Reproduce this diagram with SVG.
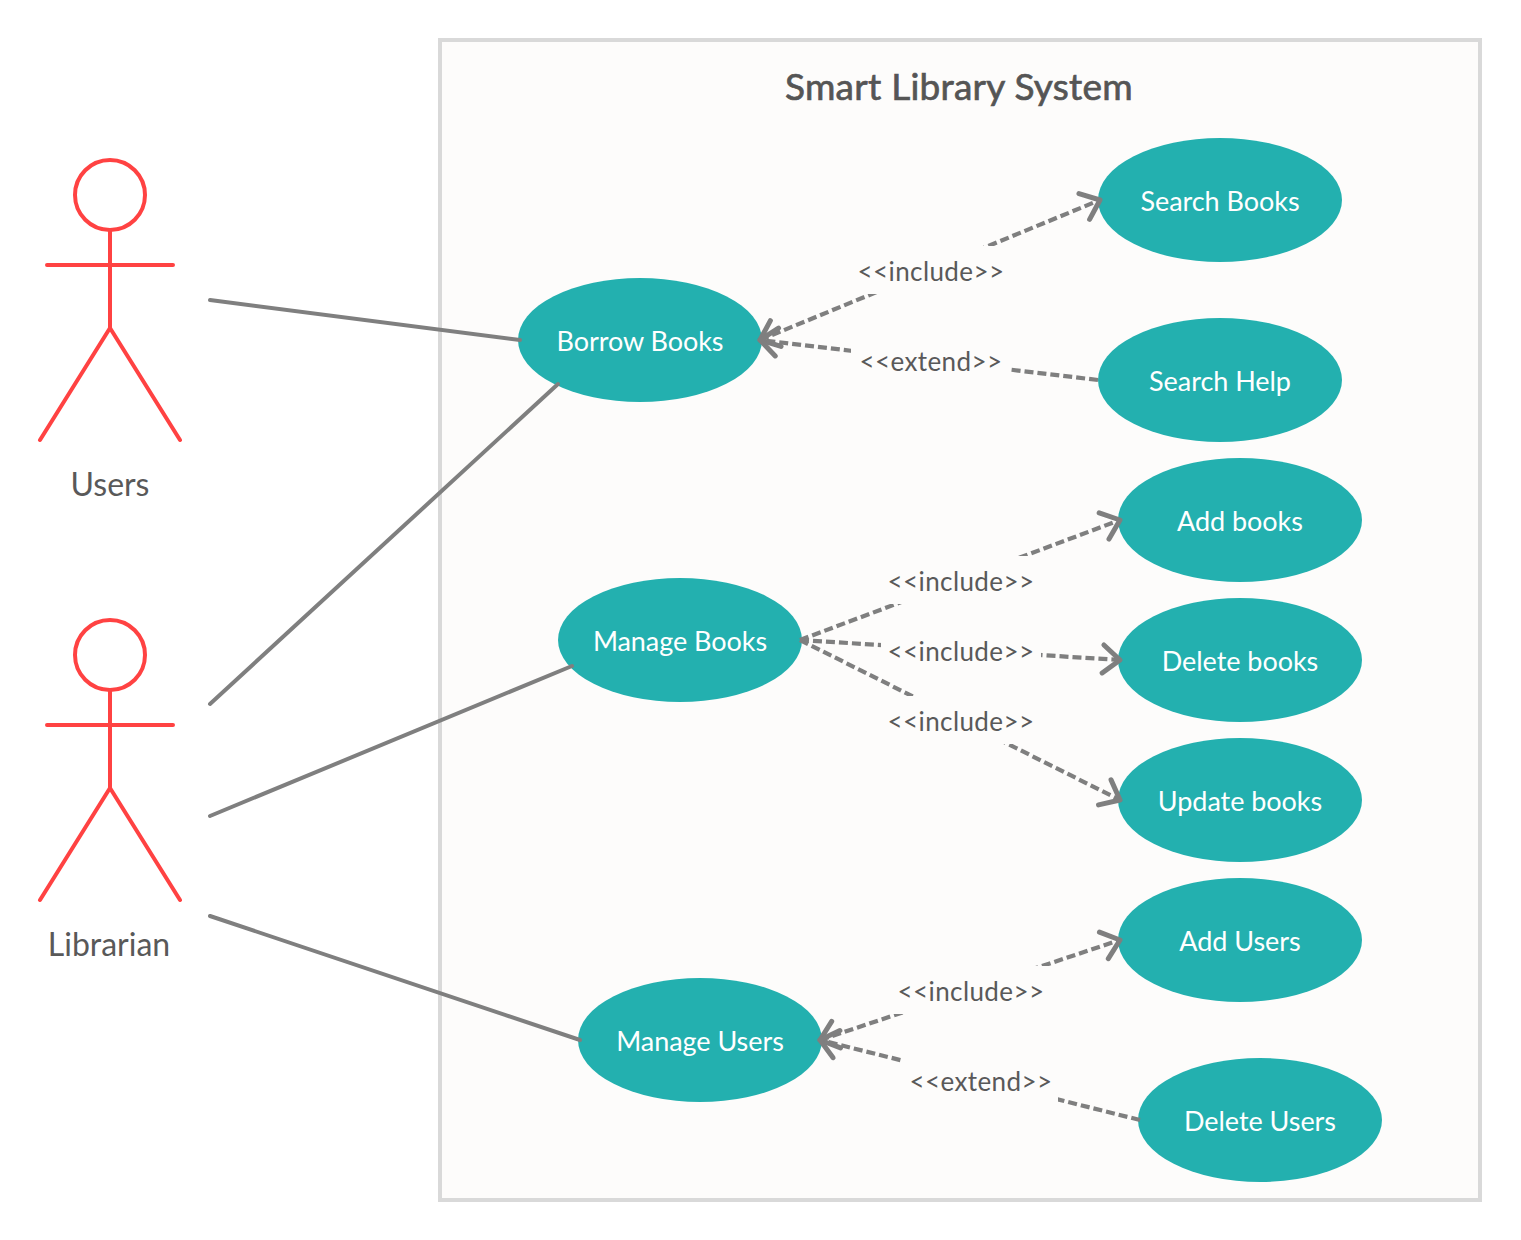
<svg xmlns="http://www.w3.org/2000/svg" width="1521" height="1240" viewBox="0 0 1521 1240">
<style>
text{font-family:Lato,"Open Sans","Liberation Sans",sans-serif;text-anchor:middle}
.uc ellipse{fill:#23b0af}
.uc text{font-size:27px;fill:#fff;letter-spacing:-0.05px}
.actor *{fill:none;stroke:#ff4242;stroke-width:4;stroke-linecap:round;stroke-linejoin:round}
.actor text{fill:#595959;stroke:none;font-size:32px}
.solid{stroke:#7f7f7f;stroke-width:4;stroke-linecap:round;fill:none}
.dash{stroke:#7f7f7f;stroke-width:4.2;stroke-dasharray:9 4;fill:none}
.lbl{fill:#fdfcfb}
.ltxt{font-size:26px;fill:#595959;letter-spacing:0.4px}
</style>
<defs>
<marker id="open" markerUnits="userSpaceOnUse" markerWidth="40" markerHeight="40" refX="22" refY="20" orient="auto-start-reverse" viewBox="0 0 40 40">
<path d="M5 6L22 20L5 34" fill="none" stroke="#7f7f7f" stroke-width="5" stroke-linecap="round" stroke-linejoin="round"/>
</marker>
</defs>
<rect width="1521" height="1240" fill="#fff"/>
<g id="system">
<rect x="440" y="40" width="1040" height="1160" fill="#fdfcfb" stroke="#d9d9d9" stroke-width="4"/>
<text x="959" y="100" font-size="37" fill="#555" stroke="#555" stroke-width="0.7" letter-spacing="0.25">Smart Library System</text>
</g>
<g id="actor-users" class="actor">
<circle cx="110" cy="195" r="35"/>
<path d="M110 230V328M47 265H173M40 440L110 328L180 440"/>
<text x="110" y="496">Users</text>
</g>
<g id="actor-librarian" class="actor">
<circle cx="110" cy="655" r="35"/>
<path d="M110 690V788M47 725H173M40 900L110 788L180 900"/>
<text x="109" y="956">Librarian</text>
</g>
<g id="uc-borrow" class="uc"><ellipse cx="640" cy="340" rx="122" ry="62"/><text x="640" y="351">Borrow Books</text></g>
<g id="uc-search" class="uc"><ellipse cx="1220" cy="200" rx="122" ry="62"/><text x="1220" y="211">Search Books</text></g>
<g id="uc-help" class="uc"><ellipse cx="1220" cy="380" rx="122" ry="62"/><text x="1220" y="391">Search Help</text></g>
<g id="uc-manage-books" class="uc"><ellipse cx="680" cy="640" rx="122" ry="62"/><text x="680" y="651">Manage Books</text></g>
<g id="uc-add-books" class="uc"><ellipse cx="1240" cy="520" rx="122" ry="62"/><text x="1240" y="531">Add books</text></g>
<g id="uc-delete-books" class="uc"><ellipse cx="1240" cy="660" rx="122" ry="62"/><text x="1240" y="671">Delete books</text></g>
<g id="uc-update-books" class="uc"><ellipse cx="1240" cy="800" rx="122" ry="62"/><text x="1240" y="811">Update books</text></g>
<g id="uc-manage-users" class="uc"><ellipse cx="700" cy="1040" rx="122" ry="62"/><text x="700" y="1051">Manage Users</text></g>
<g id="uc-add-users" class="uc"><ellipse cx="1240" cy="940" rx="122" ry="62"/><text x="1240" y="951">Add Users</text></g>
<g id="uc-delete-users" class="uc"><ellipse cx="1260" cy="1120" rx="122" ry="62"/><text x="1260" y="1131">Delete Users</text></g>
<g id="connectors">
<path class="solid" d="M210 300L520 340"/>
<path class="solid" d="M210 704L558 384"/>
<path class="solid" d="M210 816L572 666"/>
<path class="solid" d="M210 916L580 1040"/>
<path class="dash" d="M760 340L1100 200" marker-start="url(#open)" marker-end="url(#open)"/>
<path class="dash" d="M1098 380L760 340" marker-end="url(#open)"/>
<path class="dash" d="M800 640L1120 520" marker-end="url(#open)"/>
<path class="dash" d="M800 640L1120 660" marker-end="url(#open)"/>
<path class="dash" d="M800 640L1120 800" marker-end="url(#open)"/>
<path class="dash" d="M820 1040L1120 940" marker-start="url(#open)" marker-end="url(#open)"/>
<path class="dash" d="M1140 1120L820 1040" marker-end="url(#open)"/>
<rect class="lbl" x="851" y="246" width="158" height="48"/>
<rect class="lbl" x="851" y="336" width="158" height="48"/>
<rect class="lbl" x="881" y="556" width="158" height="48"/>
<rect class="lbl" x="881" y="627" width="160" height="48"/>
<rect class="lbl" x="881" y="696" width="158" height="48"/>
<rect class="lbl" x="891" y="966" width="158" height="48"/>
<rect class="lbl" x="902" y="1056" width="156" height="46"/>
<text class="ltxt" x="931" y="281">&lt;&lt;include&gt;&gt;</text>
<text class="ltxt" x="931" y="371">&lt;&lt;extend&gt;&gt;</text>
<text class="ltxt" x="961" y="591">&lt;&lt;include&gt;&gt;</text>
<text class="ltxt" x="961" y="661">&lt;&lt;include&gt;&gt;</text>
<text class="ltxt" x="961" y="731">&lt;&lt;include&gt;&gt;</text>
<text class="ltxt" x="971" y="1001">&lt;&lt;include&gt;&gt;</text>
<text class="ltxt" x="981" y="1091">&lt;&lt;extend&gt;&gt;</text>
</g>
</svg>
